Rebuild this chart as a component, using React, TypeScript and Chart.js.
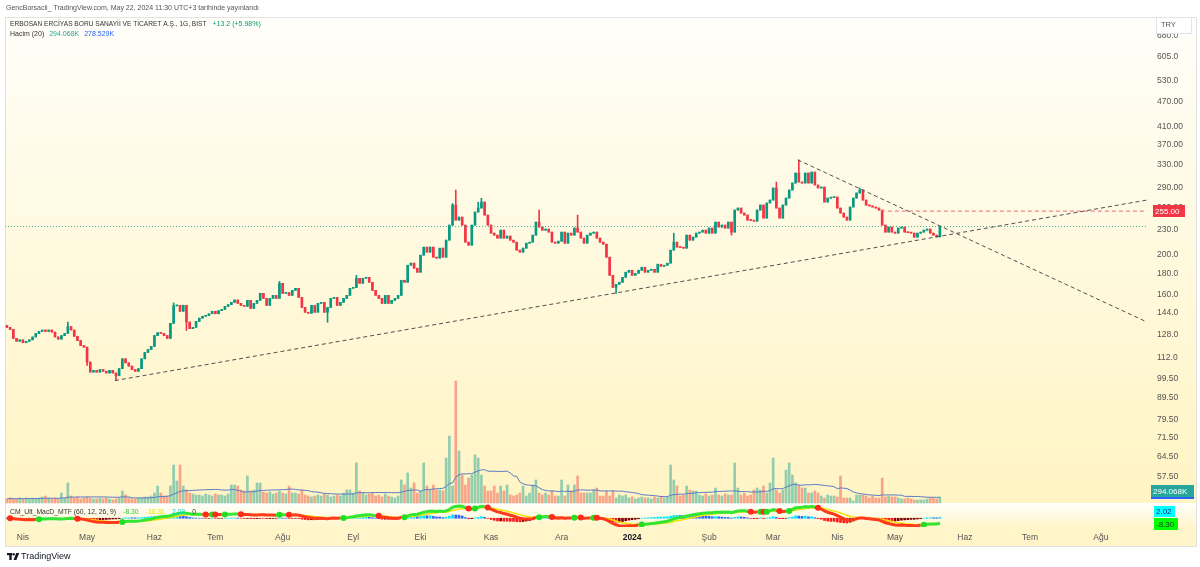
import React, { useEffect, useRef } from "react";
import { Chart, registerables } from "chart.js";

Chart.register(...registerables);

const FONT = "'Liberation Sans', Arial, sans-serif";

// Daily closes (TRY), late Mar 2023 -> 22 May 2024
const closes: number[] = [
  133.0, 131.5, 125.0, 123.0, 124.0, 122.0, 123.0, 124.0, 126.0, 128.5,
  130.0, 131.0, 130.0, 131.0, 129.5, 126.0, 124.5, 127.0, 128.5, 133.5,
  131.0, 126.5, 123.5, 120.0, 119.0, 109.5, 103.5, 104.5, 103.5, 105.0,
  104.0, 103.0, 104.5, 103.0, 101.5, 105.5, 111.5, 109.0, 107.0, 105.0,
  104.0, 105.5, 111.5, 115.5, 117.5, 119.5, 127.0, 129.0, 128.5, 127.0,
  125.0, 136.0, 150.0, 150.5, 145.5, 150.5, 137.0, 132.0, 133.0, 137.5,
  140.0, 141.5, 142.0, 143.5, 145.5, 143.5, 146.0, 147.0, 149.5, 151.0,
  153.0, 155.0, 152.1, 150.4, 149.6, 154.7, 147.9, 152.1, 154.7, 160.9,
  156.4, 150.4, 156.4, 159.1, 156.4, 170.2, 160.9, 161.5, 159.1, 163.6,
  165.5, 157.3, 148.7, 144.7, 143.9, 150.4, 144.7, 152.1, 153.0, 144.7,
  148.7, 156.4, 157.3, 150.4, 153.0, 156.4, 159.1, 165.5, 166.2, 175.0,
  170.2, 175.0, 176.0, 171.2, 163.6, 159.1, 156.4, 152.1, 159.1, 152.1,
  154.7, 156.4, 159.1, 173.1, 171.2, 188.3, 190.5, 185.2, 181.1, 199.2,
  208.4, 202.6, 208.4, 197.0, 196.0, 207.2, 197.0, 216.7, 235.8, 263.8,
  242.5, 246.6, 235.8, 214.3, 210.7, 235.8, 253.7, 259.4, 268.3, 249.4,
  235.8, 225.4, 222.9, 219.2, 229.2, 219.2, 221.7, 216.7, 214.3, 204.9,
  202.6, 207.2, 213.1, 214.3, 222.9, 239.8, 233.2, 229.2, 230.6, 226.7,
  214.3, 213.1, 215.5, 226.7, 213.1, 225.4, 222.9, 231.9, 226.7, 219.2,
  213.1, 222.9, 225.4, 226.7, 219.2, 214.3, 211.9, 197.0, 178.0, 166.4,
  169.3, 171.2, 176.0, 181.1, 183.1, 178.0, 180.0, 183.1, 186.2, 181.1,
  183.1, 184.1, 181.1, 189.4, 187.2, 188.3, 190.5, 204.9, 214.3, 208.4,
  208.0, 207.2, 222.9, 216.7, 220.4, 225.4, 226.7, 229.2, 225.4, 231.9,
  225.4, 239.8, 233.2, 235.8, 231.9, 239.8, 226.7, 256.5, 259.4, 252.2,
  249.4, 242.5, 242.0, 241.1, 256.5, 263.8, 245.2, 266.8, 271.3, 290.2,
  259.4, 245.2, 263.8, 274.3, 287.0, 298.4, 315.6, 300.1, 298.4, 315.6,
  298.4, 317.4, 295.1, 290.2, 291.8, 268.3, 274.3, 275.0, 275.9, 259.4,
  252.2, 246.6, 242.5, 260.9, 274.3, 282.2, 287.0, 271.3, 263.8, 262.5,
  260.9, 259.4, 256.5, 235.8, 226.7, 233.2, 226.7, 225.4, 231.9, 233.2,
  226.7, 226.0, 225.5, 220.4, 225.4, 226.7, 229.2, 230.6, 225.4, 222.9,
  220.7, 233.9,
];
const firstOpen = 134.5;

// Volume (thousands)
const volumesK: number[] = [
  196, 245, 196, 196, 245, 196, 245, 196, 245, 196, 245, 294, 343, 245, 196, 245, 196,
  490, 245, 980, 343,
  245, 294, 196, 245, 294, 245, 196, 196, 245, 196, 245, 196, 147, 196, 245,
  588, 392,
  245, 196, 196, 245, 245, 294, 294, 343,
  490, 833, 490, 343, 343,
  833, 1862, 1078, 1862, 833, 637, 490,
  441, 392, 392, 343, 441, 392, 343, 441, 392, 392, 343, 441,
  882, 882, 833, 637, 588, 1323, 588, 637, 980, 980, 539, 490, 539, 441, 490, 588, 490, 441, 833, 490, 490, 441, 637,
  392, 343, 294, 343, 392, 343, 441, 392, 294, 343, 392, 343,
  490, 637, 637, 490,
  1960,
  588, 490, 392, 441, 490, 343, 392, 294, 441, 343, 294, 245, 343,
  1127, 882, 1470, 735, 980, 490, 588, 1960, 833, 637, 882, 637, 637, 588, 2205, 3283, 833, 5978, 2548, 1372, 882, 1225, 1372, 2352, 2205, 1372,
  833, 588, 588, 833, 490, 833, 588, 882, 392, 343, 392, 490, 833, 343, 490, 882, 1127, 490, 392, 490, 392, 588, 343, 343,
  1127, 343, 882, 588, 882, 1323, 490, 490, 490, 490, 637, 735, 343, 343, 588, 343, 588, 245, 392, 343, 392,
  245, 294, 196, 245, 294, 245, 245, 196, 294, 245, 294, 245, 294,
  1862, 1127, 833, 343, 392, 833, 637, 588, 588,
  392, 343, 441, 343, 392, 735, 392, 343, 441, 392, 392,
  1960, 735, 392, 490, 343, 392, 637, 735, 637, 833, 490, 980,
  2205, 637, 490, 637, 1617, 1960, 1372, 980, 882,
  735, 735, 490, 490, 588, 490, 343, 245, 392, 343, 343,
  294, 1323, 245, 245, 245, 98, 392, 392, 392, 343, 245, 343, 245, 245,
  1225, 294, 343, 294, 294, 245, 196, 196, 245, 196, 147, 147, 147, 147, 196, 245, 245, 196, 294.068,
];

// Notable wick extremes (bar index, price)
const wickHighIdx = [19, 52, 85, 109, 139, 140, 147, 148, 166, 178, 208, 240, 247, 266];
const wickHighVal = [137.0, 152.5, 172.0, 178.0, 266.0, 287.0, 268.0, 274.0, 256.5, 249.4, 225.4, 300.1, 339.7, 290.0];
const wickLowIdx = [25, 34, 56, 100, 190, 226];
const wickLowVal = [107.4, 98.7, 130.7, 136.8, 160.9, 223.0];

// X axis (bar index) month labels
const monthIdx = [5, 25, 46, 65, 86, 108, 129, 151, 173, 195, 219, 239, 259, 277, 298.8, 319.1, 341.2];
const monthLabels = ["Nis", "May", "Haz", "Tem", "Ağu", "Eyl", "Eki", "Kas", "Ara", "2024", "Şub", "Mar", "Nis", "May", "Haz", "Tem", "Ağu"];

// Price axis ticks
const priceTicks = [680, 605, 530, 470, 410, 370, 330, 290, 260, 230, 200, 180, 160, 144, 128, 112, 99.5, 89.5, 79.5, 71.5, 64.5, 57.5];
const priceTickLabels = ["680.0", "605.0", "530.0", "470.00", "410.00", "370.00", "330.00", "290.00", "260.00", "230.0", "200.0", "180.0", "160.0", "144.0", "128.0", "112.0", "99.50", "89.50", "79.50", "71.50", "64.50", "57.50"];

// Drawn lines (bar index, price)
const supportX = [33.7, 355.6];
const supportY = [98.7, 271.3];
const resistX = [246.7, 355.6];
const resistY = [339.7, 137.0];
const levelX = [272.6, 355.6];
const levelY = [255, 255];

const xMin = -0.6;
const xMax = 355.6;
const priceMin = 43.47;
const priceMax = 752.1;
const volMin = -1176;
const volMax = 23765;

function ema(src: number[], n: number): number[] {
  const k = 2 / (n + 1);
  const out: number[] = [];
  let prev = src[0];
  src.forEach((v, i) => {
    prev = i === 0 ? v : v * k + prev * (1 - k);
    out.push(prev);
  });
  return out;
}

const decoPlugin = {
  id: "tvdeco",
  beforeDraw(chart: any) {
    const ctx = chart.ctx;
    ctx.save();
    ctx.fillStyle = "#ffffff";
    ctx.fillRect(0, 0, 1200, 567);
    const g1 = ctx.createLinearGradient(0, 18, 0, 503);
    g1.addColorStop(0, "#fffef9");
    g1.addColorStop(1, "#fff4c3");
    ctx.fillStyle = g1;
    ctx.fillRect(5, 17, 1192, 486);
    const g2 = ctx.createLinearGradient(0, 503, 0, 527);
    g2.addColorStop(0, "#fffffc");
    g2.addColorStop(1, "#fff5cb");
    ctx.fillStyle = g2;
    ctx.fillRect(5, 503, 1192, 24);
    ctx.fillStyle = "#fff5c8";
    ctx.fillRect(5, 527, 1192, 20);
    ctx.strokeStyle = "#e2e2e2";
    ctx.lineWidth = 1;
    ctx.strokeRect(5.5, 17.5, 1191, 529);
    ctx.restore();
  },
  afterDraw(chart: any) {
    const ctx = chart.ctx;
    ctx.save();
    ctx.textBaseline = "middle";
    ctx.textAlign = "left";
    // publication line
    ctx.font = `7px ${FONT}`;
    ctx.fillStyle = "#555";
    ctx.fillText("GencBorsacii_ TradingView.com, May 22, 2024 11:30 UTC+3 tarihinde yayınlandı", 6, 8);
    // symbol line
    ctx.font = `6.6px ${FONT}`;
    ctx.fillStyle = "#333";
    const sym = "ERBOSAN ERCİYAS BORU SANAYİİ VE TİCARET A.Ş., 1G, BIST";
    ctx.fillText(sym, 10, 24);
    let x = 10 + ctx.measureText(sym).width + 6;
    ctx.font = `7px ${FONT}`;
    ctx.fillStyle = "#089981";
    ctx.fillText("+13.2 (+5.98%)", x, 24);
    // volume line
    ctx.fillStyle = "#333";
    ctx.fillText("Hacim (20)", 10, 34);
    x = 10 + ctx.measureText("Hacim (20)").width + 5;
    ctx.fillStyle = "#26a69a";
    ctx.fillText("294.068K", x, 34);
    x += ctx.measureText("294.068K").width + 5;
    ctx.fillStyle = "#2962ff";
    ctx.fillText("278.529K", x, 34);
    // macd title
    ctx.font = `6.8px ${FONT}`;
    ctx.fillStyle = "#333";
    const mt = "CM_Ult_MacD_MTF (60, 12, 26, 9)";
    ctx.fillText(mt, 10, 512);
    x = 10 + ctx.measureText(mt).width + 7;
    const vals = ["-8.30", "-10.31", "2.02", "0"];
    const cols = ["#2ecc2e", "#e6dc00", "#00d4e6", "#333"];
    vals.forEach((v, k) => {
      ctx.fillStyle = cols[k];
      ctx.fillText(v, x, 512);
      x += ctx.measureText(v).width + 7;
    });

    // TRY box
    ctx.fillStyle = "#ffffff";
    ctx.strokeStyle = "#e0e3eb";
    ctx.beginPath();
    ctx.rect(1156.5, 17.5, 35, 16);
    ctx.fill();
    ctx.stroke();
    ctx.fillStyle = "#555";
    ctx.font = `7.5px ${FONT}`;
    ctx.fillText("TRY", 1161, 25);

    // axis value boxes
    const box = (bx: number, by: number, w: number, h: number, fill: string, text: string, tc: string) => {
      ctx.fillStyle = fill;
      ctx.fillRect(bx, by, w, h);
      ctx.fillStyle = tc;
      ctx.font = `8px ${FONT}`;
      ctx.fillText(text, bx + 2, by + h / 2 + 0.5);
    };
    box(1153, 205, 32, 12, "#f23645", "255.00", "#ffffff");
    ctx.fillStyle = "#2962ff";
    ctx.fillRect(1151, 489, 43, 10);
    box(1151, 485, 43, 12, "#26a69a", "294.068K", "#ffffff");
    box(1154, 506, 21, 11, "#00ffff", "2.02", "#1a237e");
    box(1154, 518, 24, 12, "#00ff00", "-8.30", "#1a3a1a");

    // TradingView logo
    ctx.fillStyle = "#131722";
    ctx.fillRect(7, 553, 5, 2.2);
    ctx.fillRect(9.3, 553, 2.4, 7);
    ctx.beginPath();
    ctx.arc(13.6, 554.2, 1.2, 0, Math.PI * 2);
    ctx.fill();
    ctx.beginPath();
    ctx.moveTo(16.2, 553);
    ctx.lineTo(19.2, 553);
    ctx.lineTo(16.4, 560);
    ctx.lineTo(13.6, 560);
    ctx.closePath();
    ctx.fill();
    ctx.font = `9px ${FONT}`;
    ctx.fillText("TradingView", 21, 557);
    ctx.restore();
  },
};

export default function App() {
  const ref = useRef<HTMLCanvasElement>(null);

  useEffect(() => {
    const canvas = ref.current;
    if (!canvas) return;

    const opens = closes.map((c, i) => (i === 0 ? firstOpen : closes[i - 1]));
    const highs = closes.map((c, i) => Math.max(c, opens[i]));
    const lows = closes.map((c, i) => Math.min(c, opens[i]));
    wickHighIdx.forEach((idx, k) => {
      highs[idx] = Math.max(highs[idx], wickHighVal[k]);
    });
    wickLowIdx.forEach((idx, k) => {
      lows[idx] = Math.min(lows[idx], wickLowVal[k]);
    });
    const up = closes.map((c, i) => c >= opens[i]);
    const UP = "#089981";
    const DN = "#f23645";

    const volMA = volumesK.map((_, i) => {
      const s = Math.max(0, i - 19);
      let sum = 0;
      for (let j = s; j <= i; j++) sum += volumesK[j];
      return sum / (i - s + 1);
    });

    const e12 = ema(closes, 12);
    const e26 = ema(closes, 26);
    const macd = closes.map((_, i) => e12[i] - e26[i]);
    const signal = ema(macd, 9);
    const hist = macd.map((m, i) => m - signal[i]);
    const histColors = hist.map((h, i) => {
      const prev = i > 0 ? hist[i - 1] : 0;
      if (h > 0) return h > prev ? "#00e5ff" : "#2962ff";
      return h < prev ? "#ff1a1a" : "#800000";
    });
    const cross: { x: number; y: number }[] = [];
    const crossColors: string[] = [];
    for (let i = 1; i < macd.length; i++) {
      const a = macd[i - 1] - signal[i - 1];
      const b = macd[i] - signal[i];
      if ((a < 0 && b >= 0) || (a >= 0 && b < 0)) {
        cross.push({ x: i, y: signal[i] });
        crossColors.push(b >= 0 ? "#22dd22" : "#ff2a1a");
      }
    }
    const all = macd.concat(signal, hist);
    const mMax = Math.max(...all);
    const mMin = Math.min(...all);
    const H = 509;
    const R = ((mMax - mMin) * H) / 20;
    const macdMax = mMax + (488 * R) / H;
    const macdMin = macdMax - R;
    const last = closes[closes.length - 1];

    const datasets: any[] = [
      {
        type: "bar", label: "Hacim", yAxisID: "vol",
        data: volumesK.map((v, i) => ({ x: i, y: v })),
        backgroundColor: up.map((u) => (u ? "rgba(38,166,154,0.5)" : "rgba(239,83,80,0.5)")),
        barThickness: 2, grouped: false, order: 20,
      },
      {
        type: "line", label: "Hacim MA", yAxisID: "vol",
        data: volMA.map((v, i) => ({ x: i, y: v })),
        borderColor: "#5b7bc8", borderWidth: 1, pointRadius: 0, order: 19,
      },
      {
        type: "bar", label: "wick", yAxisID: "y",
        data: closes.map((_, i) => ({ x: i, y: [lows[i], highs[i]] })),
        backgroundColor: up.map((u) => (u ? UP : DN)),
        barThickness: 1, grouped: false, order: 12,
      },
      {
        type: "bar", label: "body", yAxisID: "y",
        data: closes.map((c, i) => ({ x: i, y: [opens[i], c] })),
        backgroundColor: up.map((u) => (u ? UP : DN)),
        barThickness: 2, minBarLength: 1, grouped: false, order: 11,
      },
      {
        type: "line", label: "last", yAxisID: "y",
        data: [{ x: xMin, y: last }, { x: xMax, y: last }],
        borderColor: "rgba(38,166,154,0.85)", borderWidth: 1, borderDash: [1, 2], pointRadius: 0, order: 10,
      },
      {
        type: "line", label: "support", yAxisID: "y",
        data: supportX.map((x, k) => ({ x, y: supportY[k] })),
        borderColor: "#505050", borderWidth: 1, borderDash: [4, 3], pointRadius: 0, order: 5,
      },
      {
        type: "line", label: "resistance", yAxisID: "y",
        data: resistX.map((x, k) => ({ x, y: resistY[k] })),
        borderColor: "#505050", borderWidth: 1, borderDash: [4, 3], pointRadius: 0, order: 5,
      },
      {
        type: "line", label: "level", yAxisID: "y",
        data: levelX.map((x, k) => ({ x, y: levelY[k] })),
        borderColor: "#ee6b6e", borderWidth: 1, borderDash: [4, 3], pointRadius: 0, order: 5,
      },
      {
        type: "bar", label: "hist", yAxisID: "macd",
        data: hist.map((v, i) => ({ x: i, y: v })),
        backgroundColor: histColors, barThickness: 2, grouped: false, order: 9,
      },
      {
        type: "line", label: "signal", yAxisID: "macd",
        data: signal.map((v, i) => ({ x: i, y: v })),
        borderColor: "#f2e200", borderWidth: 1.5, pointRadius: 0, order: 8,
      },
      {
        type: "line", label: "macd", yAxisID: "macd",
        data: macd.map((v, i) => ({ x: i, y: v })),
        borderColor: "#33e633", borderWidth: 3, pointRadius: 0, order: 7,
        segment: {
          borderColor: (c: any) => (macd[c.p1DataIndex] >= signal[c.p1DataIndex] ? "#33e633" : "#ff3a1a"),
        },
      },
      {
        type: "line", label: "cross", yAxisID: "macd",
        data: cross, showLine: false, pointRadius: 3, pointBackgroundColor: crossColors,
        pointBorderWidth: 0, order: 6,
      },
    ];

    const chart = new Chart(canvas, {
      type: "bar",
      data: { datasets },
      options: {
        responsive: false,
        animation: false,
        devicePixelRatio: 1,
        events: [],
        layout: { padding: { left: 5, right: 3, top: 18, bottom: 20 }, autoPadding: false },
        plugins: { legend: { display: false }, tooltip: { enabled: false } },
        scales: {
          x: {
            type: "linear", min: xMin, max: xMax, offset: false, bounds: "data",
            grid: { display: false, drawTicks: false }, border: { display: false },
            afterBuildTicks: (s: any) => { s.ticks = monthIdx.map((v) => ({ value: v })); },
            afterFit: (s: any) => { s.height = 20; },
            ticks: {
              autoSkip: false, maxRotation: 0, minRotation: 0, padding: 6,
              color: (c: any) => (c.tick && c.tick.value === 195 ? "#131722" : "#555"),
              font: (c: any) => ({ family: FONT, size: 8.5, weight: c.tick && c.tick.value === 195 ? "bold" : "normal" }),
              callback: (_v: any, i: number) => monthLabels[i],
            },
          },
          y: {
            type: "logarithmic", position: "right", min: priceMin, max: priceMax, bounds: "data",
            grid: { display: false, drawTicks: false }, border: { display: false },
            afterBuildTicks: (s: any) => { s.ticks = priceTicks.map((v) => ({ value: v })); },
            afterFit: (s: any) => { s.width = 50; },
            ticks: {
              autoSkip: false, padding: 10, color: "#555",
              font: { family: FONT, size: 8.5 },
              callback: (_v: any, i: number) => priceTickLabels[i],
            },
          },
          vol: { type: "linear", display: false, position: "left", min: volMin, max: volMax, bounds: "data" },
          macd: { type: "linear", display: false, position: "left", min: macdMin, max: macdMax, bounds: "data" },
        },
      } as any,
      plugins: [decoPlugin],
    });

    return () => chart.destroy();
  }, []);

  return (
    <div style={{ position: "fixed", left: 0, top: 0, width: 1200, height: 567, background: "#fff" }}>
      <canvas ref={ref} width={1200} height={567} style={{ display: "block" }} />
    </div>
  );
}
